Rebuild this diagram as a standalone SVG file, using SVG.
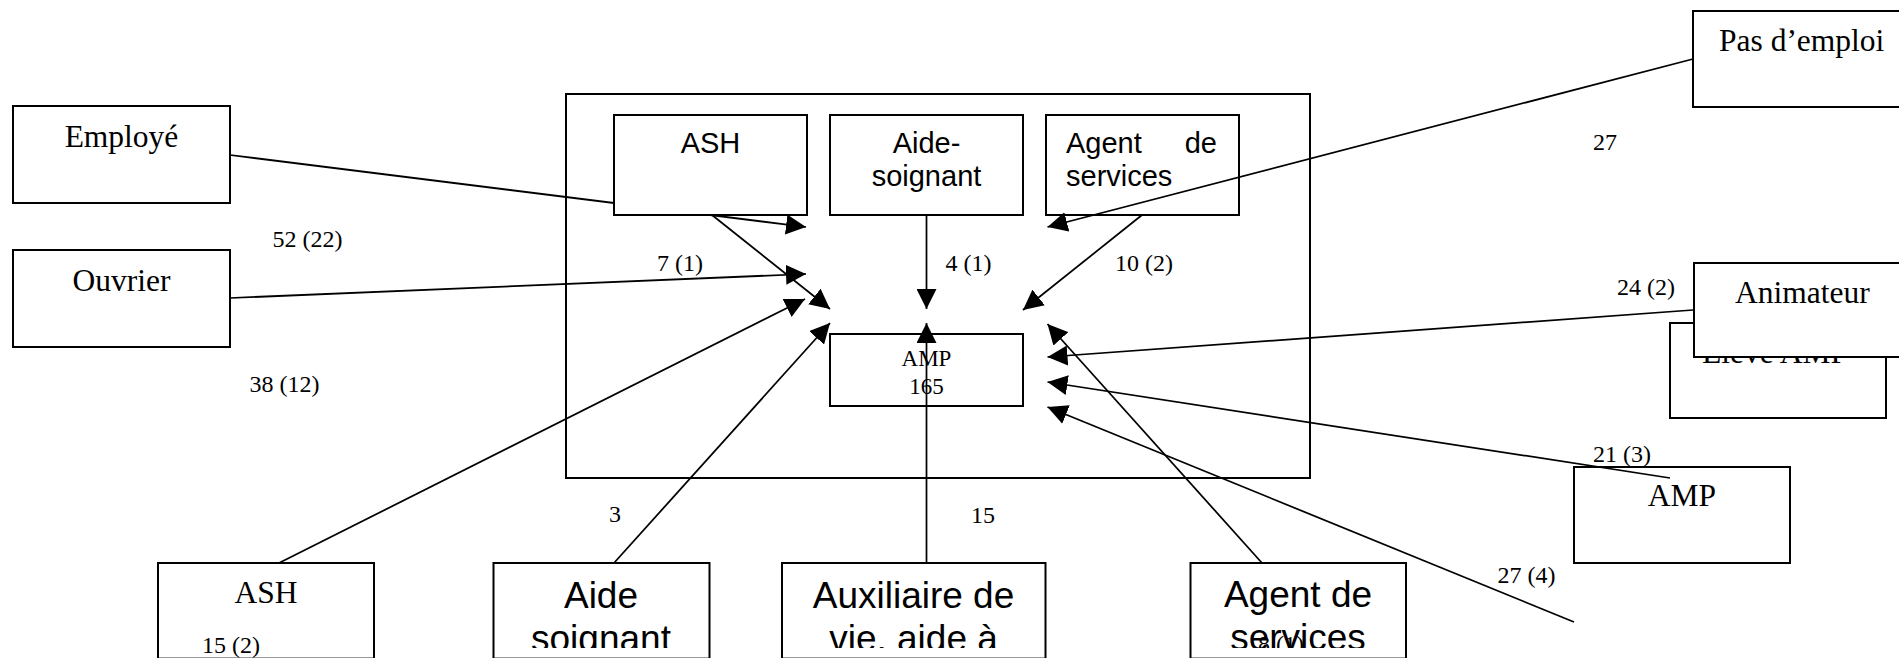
<svg xmlns="http://www.w3.org/2000/svg" width="1899" height="658" viewBox="0 0 1899 658">
  <style>
    .box { fill: none; stroke: #000; stroke-width: 2; }
    .opaque { fill: #fff; stroke: #000; stroke-width: 2; }
    .link { fill: none; stroke: #000; stroke-width: 1.75; marker-end: url(#arrow); }
    .plain { fill: none; stroke: #000; stroke-width: 1.75; }
    .serif { font-family: "Liberation Serif", "Times New Roman", serif; fill: #000; }
    .sans { font-family: "Liberation Sans", Arial, sans-serif; fill: #000; }
    .node-t { font-size: 31.5px; }
    .inner-t { font-size: 29px; }
    .low-t { font-size: 37px; }
    .num { font-size: 24px; }
    .mid { text-anchor: middle; }
  </style>
  <defs>
    <marker id="arrow" markerUnits="userSpaceOnUse" markerWidth="20" markerHeight="20" viewBox="0 0 20 20" refX="20" refY="10" orient="auto">
      <path d="M0,0 L20,10 L0,20 Z" fill="#000"/>
    </marker>
    <clipPath id="cut">
      <rect x="0" y="0" width="1899" height="648"/>
    </clipPath>
  </defs>

  <rect width="1899" height="658" fill="#fff"/>

  <!-- connectors -->
  <g id="connectors">
    <line class="link" x1="230" y1="155" x2="806" y2="227"/>
    <line class="link" x1="230" y1="298" x2="806" y2="274"/>
    <line class="link" x1="712" y1="215" x2="830" y2="309"/>
    <line class="link" x1="279" y1="563" x2="805" y2="299"/>
    <line class="link" x1="614" y1="563" x2="830" y2="323"/>
    <line class="link" x1="926.5" y1="563" x2="926.5" y2="323"/>
    <line class="link" x1="926.5" y1="215" x2="926.5" y2="309"/>
    <line class="link" x1="1142" y1="215" x2="1023" y2="310"/>
    <line class="link" x1="1693" y1="59" x2="1047.5" y2="227"/>
    <line class="link" x1="1693" y1="310" x2="1047.5" y2="357"/>
    <line class="link" x1="1670" y1="478" x2="1047.5" y2="382"/>
    <line class="link" x1="1574" y1="622" x2="1047.5" y2="407"/>
    <line class="link" x1="1262" y1="563" x2="1047.5" y2="324"/>
  </g>

  <!-- nodes -->
  <g id="frame">
    <rect class="box" x="566" y="94" width="744" height="384"/>
  </g>

  <g id="employe">
    <rect class="box" x="13" y="106" width="217" height="97"/>
    <text class="serif node-t mid" x="121.5" y="147">Employé</text>
  </g>
  <g id="ouvrier">
    <rect class="box" x="13" y="250" width="217" height="97"/>
    <text class="serif node-t mid" x="121.5" y="291">Ouvrier</text>
  </g>

  <g id="ash-inner">
    <rect class="opaque" x="614" y="115" width="193" height="100"/>
    <text class="sans inner-t mid" x="710.5" y="153">ASH</text>
  </g>
  <g id="aide-soignant-inner">
    <rect class="box" x="830" y="115" width="193" height="100"/>
    <text class="sans inner-t mid" x="926.5" y="153">Aide-</text>
    <text class="sans inner-t mid" x="926.5" y="186">soignant</text>
  </g>
  <g id="agent-inner">
    <rect class="box" x="1046" y="115" width="193" height="100"/>
    <text class="sans inner-t" x="1066" y="153">Agent</text>
    <text class="sans inner-t" x="1217" y="153" text-anchor="end">de</text>
    <text class="sans inner-t" x="1066" y="186">services</text>
  </g>
  <g id="amp-centre">
    <rect class="box" x="830" y="334" width="193" height="72"/>
    <text class="serif mid" font-size="23" x="926.5" y="366">AMP</text>
    <text class="serif mid" font-size="23" x="926.5" y="394">165</text>
  </g>

  <g id="pas-emploi">
    <rect class="opaque" x="1693" y="11" width="230" height="96"/>
    <text class="serif node-t" x="1719" y="51">Pas d’emploi</text>
  </g>
  <g id="eleve-amp">
    <rect class="box" x="1670" y="323" width="216" height="95"/>
    <text class="serif node-t mid" x="1775" y="363">Élève AMP</text>
  </g>
  <g id="animateur">
    <rect class="opaque" x="1694" y="263" width="230" height="94"/>
    <text class="serif node-t" x="1735" y="303">Animateur</text>
  </g>
  <g id="amp-right">
    <rect class="box" x="1574" y="467" width="216" height="96"/>
    <text class="serif node-t mid" x="1682" y="506">AMP</text>
  </g>

  <g id="ash-bottom">
    <rect class="box" x="158" y="563" width="216" height="95.6"/>
    <text class="serif node-t mid" x="266" y="603">ASH</text>
  </g>
  <g id="aide-soignant-bottom">
    <rect class="box" x="493.5" y="563" width="216" height="95.6"/>
    <g clip-path="url(#cut)">
      <text class="sans low-t mid" x="601" y="608">Aide</text>
      <text class="sans low-t mid" x="601" y="651">soignant</text>
    </g>
  </g>
  <g id="auxiliaire-bottom">
    <rect class="box" x="782" y="563" width="263.5" height="95.6"/>
    <g clip-path="url(#cut)">
      <text class="sans low-t mid" x="913.5" y="608">Auxiliaire de</text>
      <text class="sans low-t mid" x="913.5" y="651">vie. aide à</text>
    </g>
  </g>
  <g id="agent-bottom">
    <rect class="box" x="1190.5" y="563" width="215.5" height="95.6"/>
    <g clip-path="url(#cut)">
      <text class="sans low-t mid" x="1298" y="607">Agent de</text>
      <text class="sans low-t mid" x="1298" y="650">services</text>
    </g>
  </g>

  <!-- flow counts -->
  <g id="labels" class="serif num">
    <text x="272.5" y="247">52 (22)</text>
    <text x="249.5" y="392">38 (12)</text>
    <text x="657" y="271">7 (1)</text>
    <text x="945.5" y="271">4 (1)</text>
    <text x="1115" y="271">10 (2)</text>
    <text x="1593" y="150">27</text>
    <text x="1617" y="295">24 (2)</text>
    <text x="1593" y="462">21 (3)</text>
    <text x="1497.5" y="583">27 (4)</text>
    <text x="609" y="522">3</text>
    <text x="971" y="523">15</text>
    <text x="202" y="653">15 (2)</text>
    <text x="1258" y="652" clip-path="url(#cut)">8 (1)</text>
  </g>
</svg>
